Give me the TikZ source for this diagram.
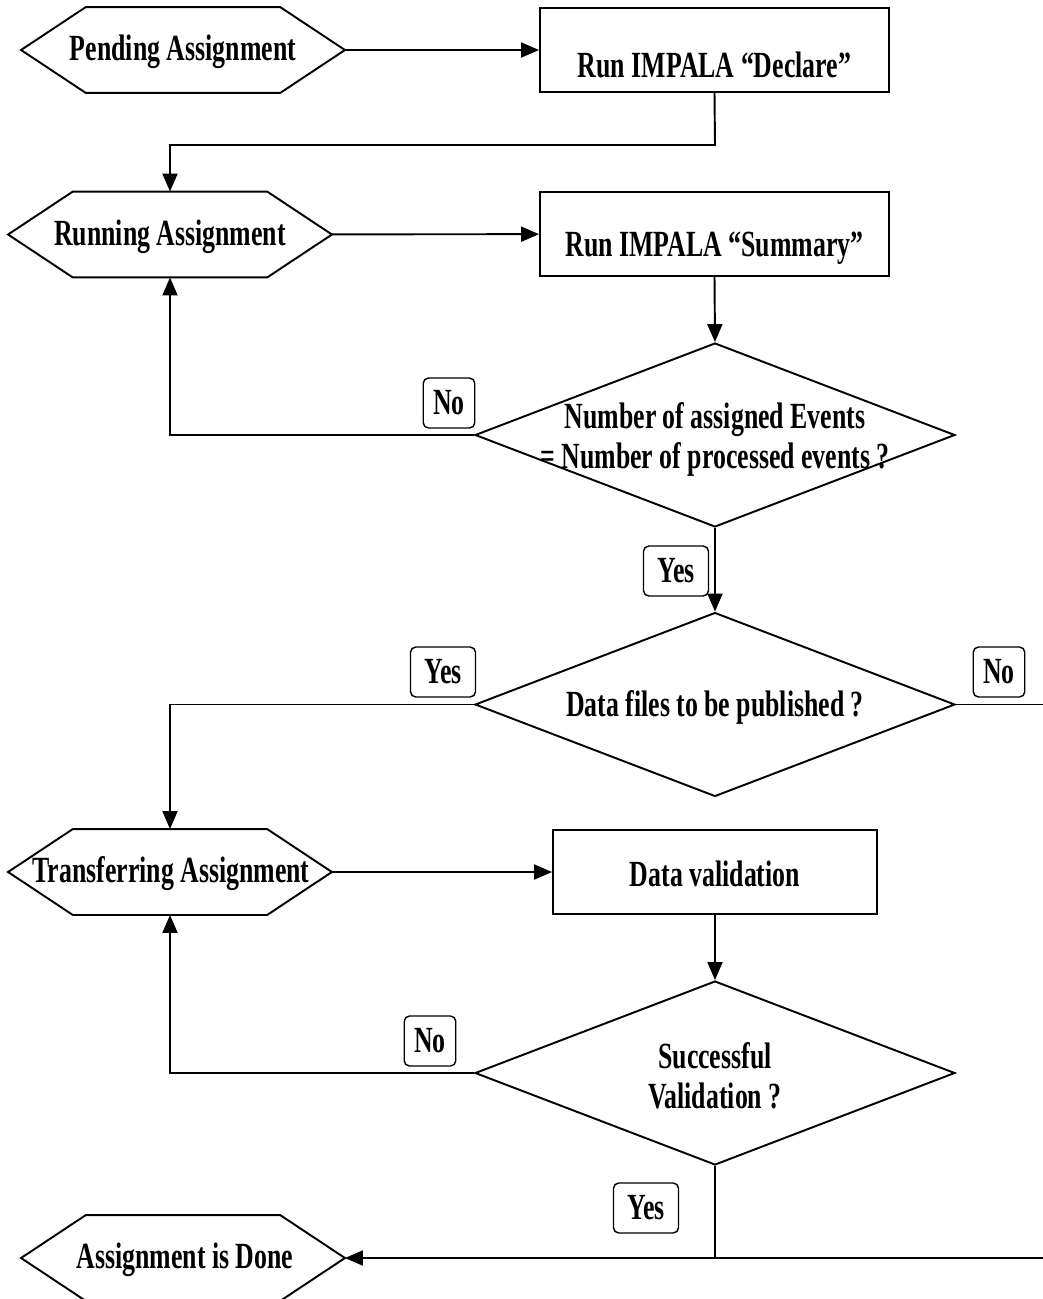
\documentclass[tikz,border=0pt]{standalone}
\usepackage{fontspec}
\setmainfont{Liberation Serif}[FakeStretch=0.7]
\usetikzlibrary{shapes.geometric,arrows.meta,calc}

\tikzset{
  flowfont/.style={font=\bfseries\fontsize{21}{22.8}\selectfont},
  hexbox/.style={flowfont,minimum width=6.44cm,minimum height=1.68cm,inner sep=0pt},
  procbox/.style={draw,flowfont,minimum width=6.98cm,minimum height=1.68cm,inner sep=0pt},
  decbox/.style={draw,diamond,minimum width=9.6cm,minimum height=3.68cm,inner sep=0pt},
  flowtext/.style={flowfont,align=center,inner sep=0pt},
  answer/.style={draw,flowfont,rounded corners=3pt,minimum height=1cm,minimum width=1cm,inner xsep=0.2cm,line width=0.8pt},
  flow/.style={-{Triangle[length=0.36cm,width=0.3cm]}},
}

\begin{document}
\begin{tikzpicture}[x=0.02cm,y=-0.02cm,line width=1.1pt]
\useasboundingbox (0,0) rectangle (1042,1299);

% states and steps
\node [hexbox] (pend) at (183,50) {};
\node [flowtext] (pendtxt) at (183,52) {Pending Assignment};
\node [procbox] (declare) at (714.5,50) {};
\node [flowtext] (declaretxt) at ([yshift=-0.3cm]declare.center) {Run IMPALA “Declare”};

\node [hexbox] (run) at (170,234.5) {};
\node [flowtext] (runtxt) at (170,237) {Running Assignment};
\node [procbox] (summary) at (714.5,234) {};
\node [flowtext] (summarytxt) at ([yshift=-0.28cm]summary.center) {Run IMPALA “Summary”};

\node [decbox] (count) at (715,435) {};
\node [flowtext] (counttxt) at (715,439) {Number of assigned Events\\= Number of processed events ?};

\node [decbox] (publish) at (715,704.5) {};
\node [flowtext] (publishtxt) at (715,707) {Data files to be published ?};

\node [hexbox] (trans) at (170,872) {};
\node [flowtext] (transtxt) at (171,874) {Transferring Assignment};
\node [procbox,minimum width=6.48cm] (valid) at (715,872) {};
\node [flowtext] (validtxt) at (715,874) {Data validation};

\node [decbox] (success) at (715,1073) {};
\node [flowtext] (successtxt) at (715,1076) {Successful\\Validation ?};

\node [hexbox] (done) at (183,1258) {};
\node [flowtext] (donetxt) at (185,1260) {Assignment is Done};

% hexagon outlines
\foreach \h in {pend,run,trans,done}
  \draw (\h.west) -- ($(\h.north west)!0.2!(\h.north east)$) -- ($(\h.north west)!0.8!(\h.north east)$)
    -- (\h.east) -- ($(\h.south west)!0.8!(\h.south east)$) -- ($(\h.south west)!0.2!(\h.south east)$) -- cycle;

% answers
\node [answer] (no1) at (449,403) {No};
\node [answer,minimum width=1.3cm] (yes1) at (676,571) {Yes};
\node [answer,minimum width=1.3cm] (yes2) at (443,672) {Yes};
\node [answer] (no2) at (999,672) {No};
\node [answer] (no3) at (430,1041) {No};
\node [answer,minimum width=1.3cm] (yes3) at (646,1208) {Yes};

% connectors
\coordinate (bend) at (715,145);
\coordinate (rim) at (1046,1258);
\draw [flow] (pend) -- (declare);
\draw [flow] (declare.south) -- (bend) -| (run.north);
\draw [flow] (run) -- (summary);
\draw [flow] (summary.south) -- (count.north);
\draw [flow] (count.west) -| (run.south);
\draw [flow] (count.south) -- (publish.north);
\draw [flow] (publish.west) -| (trans.north);
\draw [flow] (trans) -- (valid);
\draw [flow] (valid.south) -- (success.north);
\draw [flow] (success.west) -| (trans.south);
\draw (success.south) -- (success.south |- done.east);
\draw [flow] (publish.east) -| (rim) -- (done.east);
\end{tikzpicture}
\end{document}
